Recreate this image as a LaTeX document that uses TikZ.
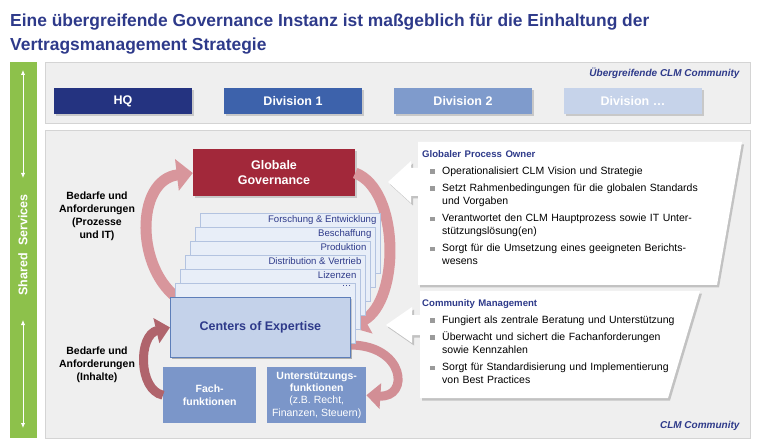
\documentclass[tikz,border=0pt]{standalone}
\usepackage{fontspec}
\setmainfont{Liberation Sans}
\usetikzlibrary{positioning,arrows.meta,shadows}

\definecolor{titleblue}{HTML}{2E3A8A}
\definecolor{sharedgreen}{HTML}{8DC14B}
\definecolor{panelgray}{HTML}{EFEFEF}
\definecolor{panelline}{HTML}{D4D4D4}
\definecolor{hqblue}{HTML}{243380}
\definecolor{div1blue}{HTML}{3D62AB}
\definecolor{div2blue}{HTML}{7F9BCC}
\definecolor{div3blue}{HTML}{C6D3EA}
\definecolor{ggred}{HTML}{A2283A}
\definecolor{arcpink}{HTML}{D8969C}
\definecolor{arcdark}{HTML}{B0646C}
\definecolor{pagefill}{HTML}{E8EEF8}
\definecolor{pageline}{HTML}{B3C3E0}
\definecolor{coefill}{HTML}{C4D2EA}
\definecolor{coeline}{HTML}{5D7EB9}
\definecolor{funcblue}{HTML}{7B96C9}
\definecolor{bulletgray}{HTML}{9A9A9A}

\newcommand{\clmitem}[1]{\par\vspace{4.5pt}\hangindent=20pt\hangafter=1\noindent\makebox[20pt][l]{\hspace{8pt}\textcolor{bulletgray}{\rule[0.8pt]{4.5pt}{4.5pt}}}#1\par}

\begin{document}
\begin{tikzpicture}[
x=1pt,y=-1pt,
panel/.style={
  fill=panelgray,
  draw=panelline
  },
divbox/.style={
  minimum width=138pt,
  minimum height=26pt,
  text=white,
  font=\fontsize{12.5}{14}\selectfont\bfseries,
  drop shadow={opacity=0.35,shadow xshift=2pt,shadow yshift=-2pt}
  },
gg/.style={
  fill=ggred,
  minimum width=162pt,
  minimum height=47pt,
  align=center,
  text=white,
  font=\fontsize{12.5}{15}\selectfont\bfseries,
  drop shadow={opacity=0.35,shadow xshift=2pt,shadow yshift=-2pt}
  },
page/.style={
  anchor=north west,
  fill=pagefill,
  draw=pageline,
  line width=0.6pt,
  minimum width=180pt,
  minimum height=60pt,
  inner sep=0pt
  },
pagetext/.style={
  anchor=north east,
  text=titleblue,
  font=\fontsize{9.6}{10}\selectfont,
  inner xsep=4pt,
  inner ysep=2.5pt
  },
coe/.style={
  anchor=north west,
  fill=coefill,
  draw=coeline,
  line width=0.8pt,
  minimum width=180pt,
  minimum height=60pt,
  text=titleblue,
  font=\fontsize{12.5}{15}\selectfont\bfseries,
  drop shadow={opacity=0.35,shadow xshift=2pt,shadow yshift=-2pt}
  },
func/.style={
  anchor=north west,
  fill=funcblue,
  minimum height=56pt,
  align=center,
  text=white,
  inner sep=1pt,
  font=\fontsize{10.5}{12.3}\selectfont
  },
bigarc/.style={
  draw=arcpink,
  line width=11pt,
  -{Triangle[length=16pt,width=31pt]}
  },
smallarc/.style={
  line width=9pt,
  -{Triangle[length=14pt,width=25pt]}
  },
need/.style={
  align=center,
  font=\fontsize{10.5}{13}\selectfont\bfseries
  },
callout/.style={
  fill=white,
  drop shadow={opacity=0.4,shadow xshift=2pt,shadow yshift=-2.5pt}
  },
callouttext/.style={
  anchor=north west,
  inner sep=0pt,
  text width=310pt,
  align=left,
  font=\fontsize{10.5}{12.8}\selectfont
  },
community/.style={
  anchor=east,
  text=titleblue,
  font=\fontsize{10}{12}\selectfont\bfseries\itshape
  },
ssarrow/.style={
  white,
  line width=0.9pt,
  {Latex[length=5pt,width=4.5pt]}-{Latex[length=5pt,width=4.5pt]}
  }
]
\useasboundingbox (0,0) rectangle (760,446);

\node[anchor=north west,inner sep=0pt,align=left,text=titleblue,
  font=\fontsize{17.4}{24}\selectfont\bfseries] (title) at (10,14)
  {Eine übergreifende Governance Instanz ist maßgeblich für die Einhaltung der\\
   Vertragsmanagement Strategie};

% shared services
\fill[sharedgreen] (10,62) rectangle (37,438);
\node[rotate=90,text=white,font=\fontsize{12.5}{14}\selectfont\bfseries] (shared) at (23,245) {Shared\hspace{4pt} Services};
\coordinate (ss1) at (23,70);
\coordinate (ss2) at (23,178);
\coordinate (ss3) at (23,320);
\coordinate (ss4) at (23,428);
\draw[ssarrow] (ss1) -- (ss2);
\draw[ssarrow] (ss3) -- (ss4);

% panels
\draw[panel] (45,62) rectangle (750,123);
\draw[panel] (45,130) rectangle (750,438);
\node[community] (topcomm) at (743,73) {Übergreifende CLM Community};
\node[community] (clmcomm) at (743,426) {CLM Community};

\foreach \name/\lbl/\col [count=\i] in {hq/HQ/hqblue,div1/Division 1/div1blue,div2/Division 2/div2blue,div3/Division \ldots/div3blue}
  \node[divbox,fill=\col] (\name) at (123+170*\i-170,101) {\lbl};

% cycle
\coordinate (gstart) at (180,300);
\coordinate (ustart) at (350,345);
\node[gg] (gg) at (274,173) {Globale\\Governance};
\draw[bigarc] (gstart) .. controls (135,270) and (135,180) .. (gg.west);
\node[coe] (coe) at (170,297) {};
\draw[bigarc] (gg.east) .. controls (400,190) and (400,300) .. (coe.east);
\node[func,minimum width=93pt,font=\fontsize{10.5}{13}\selectfont\bfseries] (fach) at (163,367) {Fach-\\funktionen};
\node[func,minimum width=99pt] (unt) at (267,367) {\textbf{Unterstützungs-}\\\textbf{funktionen}\\(z.B. Recht,\\Finanzen, Steuern)};
\draw[smallarc,draw=arcdark] (fach.west) .. controls (138,390) and (138,335) .. (coe.west);
\draw[smallarc,draw=arcpink!85!arcdark] (ustart) .. controls (405,345) and (410,398) .. (unt.east);

\foreach \k/\lbl in {6/Forschung \& Entwicklung,5/Beschaffung,4/Produktion,3/Distribution \& Vertrieb,2/Lizenzen,1/\dots}
{
  \node[page] (page\k) at (170+5*\k,297-14*\k) {};
  \node[pagetext] (page\k-txt) at (page\k.north east) {\lbl};
}
\node[coe] (coe) at (170,297) {Centers of Expertise};

\node[need] (needit) at (97,216) {Bedarfe und\\Anforderungen\\(Prozesse\\und IT)};
\node[need] (needcont) at (97,365) {Bedarfe und\\Anforderungen\\(Inhalte)};

% roles
\fill[callout] (418,142) -- (742,142) -- (717,285) -- (418,285) -- (418,196) -- (411,196)
  -- (411,203) -- (388,182) -- (411,161) -- (411,168) -- (418,168) -- cycle;
\fill[callout] (420,291) -- (700,291) -- (668,398) -- (420,398) -- (420,335) -- (412,335)
  -- (412,343) -- (386,325) -- (412,307) -- (412,315) -- (420,315) -- cycle;

\node[callouttext] (owner) at (422,150)
  {\textcolor{titleblue}{\fontsize{9.6}{12}\selectfont\textbf{Globaler Process Owner}}
   \clmitem{Operationalisiert CLM Vision und Strategie}
   \clmitem{Setzt Rahmenbedingungen für die globalen Standards\newline und Vorgaben}
   \clmitem{Verantwortet den CLM Hauptprozess sowie IT Unter-\newline stützungslösung(en)}
   \clmitem{Sorgt für die Umsetzung eines geeigneten Berichts-\newline wesens}};
\node[callouttext] (commgmt) at (422,299)
  {\textcolor{titleblue}{\fontsize{9.6}{12}\selectfont\textbf{Community Management}}
   \clmitem{Fungiert als zentrale Beratung und Unterstützung}
   \clmitem{Überwacht und sichert die Fachanforderungen\newline sowie Kennzahlen}
   \clmitem{Sorgt für Standardisierung und Implementierung\newline von Best Practices}};
\end{tikzpicture}
\end{document}
